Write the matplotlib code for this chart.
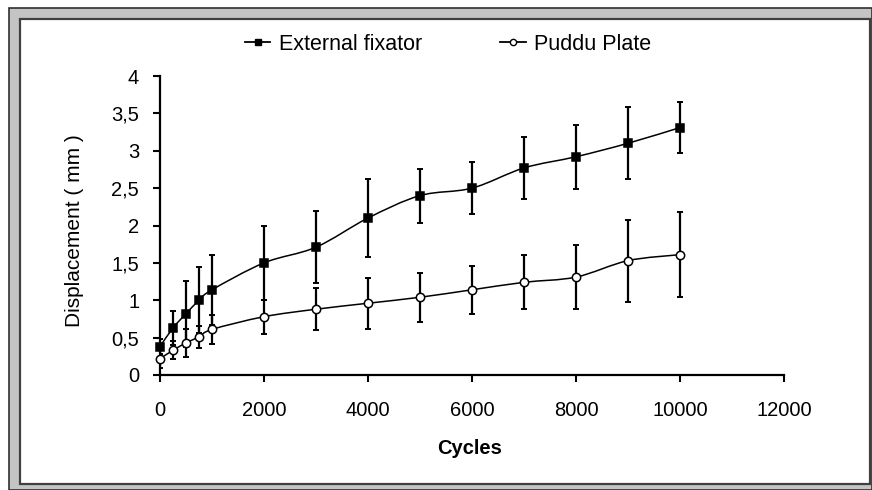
import numpy as np
import matplotlib
matplotlib.use("Agg")
import matplotlib.pyplot as plt
from matplotlib.path import Path
from matplotlib.patches import PathPatch, Rectangle
from matplotlib.ticker import FuncFormatter
from matplotlib.lines import Line2D

W, H = 872, 490

cycles = [0, 250, 500, 750, 1000, 2000, 3000, 4000, 5000, 6000, 7000, 8000, 9000, 10000]
external = [0.38, 0.63, 0.82, 1.00, 1.14, 1.50, 1.71, 2.10, 2.40, 2.50, 2.77, 2.92, 3.10, 3.31]
external_err = [0.10, 0.23, 0.44, 0.44, 0.47, 0.50, 0.48, 0.52, 0.36, 0.35, 0.41, 0.43, 0.48, 0.34]
puddu = [0.22, 0.33, 0.43, 0.51, 0.61, 0.78, 0.88, 0.96, 1.04, 1.14, 1.24, 1.31, 1.53, 1.61]
puddu_err = [0.12, 0.12, 0.19, 0.15, 0.19, 0.23, 0.28, 0.34, 0.33, 0.32, 0.36, 0.43, 0.55, 0.57]

x_ticks = [0, 2000, 4000, 6000, 8000, 10000, 12000]
y_ticks = [0, 0.5, 1, 1.5, 2, 2.5, 3, 3.5, 4]

plt.rcParams["font.family"] = ["Liberation Sans", "DejaVu Sans"]


def px(x, y):
    # pixel coords (from top-left) -> figure fraction
    return x / W, 1 - y / H


def smooth_path(xs, ys):
    # Excel-style smoothed line: cubic bezier through the points
    pts = np.column_stack([xs, ys]).astype(float)
    verts = [pts[0]]
    codes = [Path.MOVETO]
    n = len(pts)
    for i in range(n - 1):
        p0 = pts[max(i - 1, 0)]
        p1 = pts[i]
        p2 = pts[i + 1]
        p3 = pts[min(i + 2, n - 1)]
        c1 = p1 + (p2 - p0) / 6
        c2 = p2 - (p3 - p1) / 6
        verts += [c1, c2, p2]
        codes += [Path.CURVE4] * 3
    return Path(verts, codes)


fig = plt.figure(figsize=(W / 100, H / 100), dpi=100, facecolor="white")

# window-like frame around the chart
fig.patches.append(Rectangle(px(9, 490), 863 / W, 482 / H, transform=fig.transFigure,
                             facecolor="#c4c4c4", edgecolor="#303030", linewidth=1.2,
                             zorder=-10))
fig.patches.append(Rectangle(px(20, 484), 850 / W, 465 / H, transform=fig.transFigure,
                             facecolor="white", edgecolor="#404040", linewidth=1.6,
                             zorder=-9))

left, bottom = px(160, 375)
right, top = px(784, 76)
ax = fig.add_axes([left, bottom, right - left, top - bottom])
ax.set_facecolor("none")

for ys, err, mfc in [(external, external_err, "black"), (puddu, puddu_err, "white")]:
    ax.add_patch(PathPatch(smooth_path(cycles, ys), facecolor="none", edgecolor="black",
                           linewidth=1.1, zorder=2))
    ax.errorbar(cycles, ys, yerr=err, fmt="none", ecolor="black", elinewidth=1.6,
                capsize=2.3, capthick=1.4, zorder=3)
    ax.plot(cycles, ys, linestyle="none", marker="s" if mfc == "black" else "o",
            markersize=6.3 if mfc == "black" else 6, markerfacecolor=mfc,
            markeredgecolor="black", markeredgewidth=1.1, zorder=4, clip_on=False)

ax.set_xlim(0, 12000)
ax.set_ylim(0, 4)
ax.set_xticks(x_ticks)
ax.set_yticks(y_ticks)
ax.yaxis.set_major_formatter(FuncFormatter(lambda v, p: f"{v:g}".replace(".", ",")))
ax.tick_params(direction="out", length=5, width=1.5, labelsize=14.5, color="black")
ax.tick_params(axis="y", pad=10)
ax.tick_params(axis="x", pad=14)
for s in ["top", "right"]:
    ax.spines[s].set_visible(False)
for s in ["left", "bottom"]:
    ax.spines[s].set_linewidth(1.6)

fig.text(*px(470, 448), "Cycles", ha="center", va="center", fontsize=14.5, fontweight="bold")
fig.text(*px(74, 231), "Displacement ( mm )", ha="center", va="center", rotation=90,
         fontsize=15)

handles = [
    Line2D([], [], color="black", linewidth=1.3, marker="s", markersize=4.5,
           markerfacecolor="black", markeredgecolor="black"),
    Line2D([], [], color="black", linewidth=1.3, marker="o", markersize=4.5,
           markerfacecolor="white", markeredgecolor="black"),
]
fig.legend(handles, ["External fixator", "Puddu Plate"], loc="center",
           bbox_to_anchor=px(448, 44), ncol=2, frameon=False, fontsize=15.5,
           handlelength=1.2, handletextpad=0.4, columnspacing=3.6)

fig.savefig("out.png", dpi=100)
